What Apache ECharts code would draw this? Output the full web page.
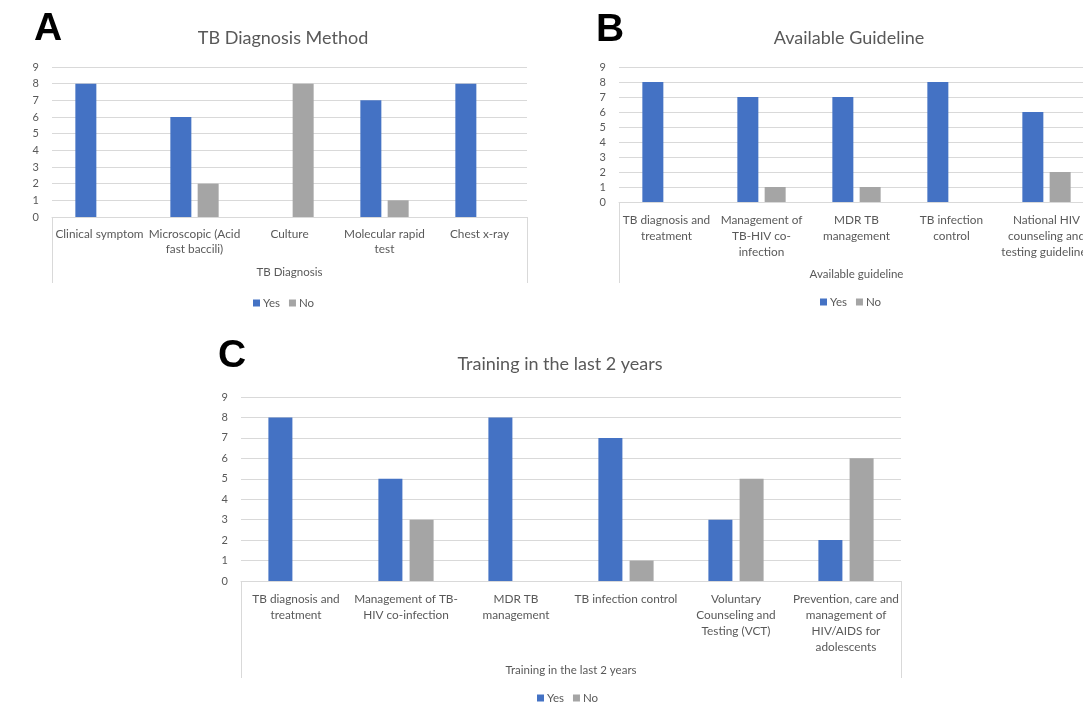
<!DOCTYPE html>
<html>
<head>
<meta charset="utf-8">
<script src="https://cdn.jsdelivr.net/npm/echarts@6/dist/echarts.min.js"></script>
<style>
html,body{margin:0;padding:0;background:#ffffff;overflow:hidden;}
#c{width:1100px;height:706px;}
</style>
</head>
<body>
<div id="c"></div>
<script>
// ---------------- data ----------------
const seriesNames = ['Yes', 'No'];
const yMin = 0, yMax = 9, yStep = 1;

const titleA = 'TB Diagnosis Method';
const axisNameA = 'TB Diagnosis';
const catsA = ['Clinical symptom', 'Microscopic (Acid fast baccili)', 'Culture', 'Molecular rapid test', 'Chest x-ray'];
const tickLabelsA = ['Clinical symptom', 'Microscopic (Acid\nfast baccili)', 'Culture', 'Molecular rapid\ntest', 'Chest x-ray'];
const yesA = [8, 6, 0, 7, 8];
const noA  = [0, 2, 8, 1, 0];

const titleB = 'Available Guideline';
const axisNameB = 'Available guideline';
const catsB = ['TB diagnosis and treatment', 'Management of TB-HIV co-infection', 'MDR TB management', 'TB infection control', 'National HIV counseling and testing guidelines'];
const tickLabelsB = ['TB diagnosis and\ntreatment', 'Management of\nTB-HIV co-\ninfection', 'MDR TB\nmanagement', 'TB infection\ncontrol', 'National HIV\ncounseling and\ntesting guidelines'];
const yesB = [8, 7, 7, 8, 6];
const noB  = [0, 1, 1, 0, 2];

const titleC = 'Training in the last 2 years';
const axisNameC = 'Training in the last 2 years';
const catsC = ['TB diagnosis and treatment', 'Management of TB-HIV co-infection', 'MDR TB management', 'TB infection control', 'Voluntary Counseling and Testing (VCT)', 'Prevention, care and management of HIV/AIDS for adolescents'];
const tickLabelsC = ['TB diagnosis and\ntreatment', 'Management of TB-\nHIV co-infection', 'MDR TB\nmanagement', 'TB infection control', 'Voluntary\nCounseling and\nTesting (VCT)', 'Prevention, care and\nmanagement of\nHIV/AIDS for\nadolescents'];
const yesC = [8, 5, 8, 7, 3, 2];
const noC  = [0, 3, 0, 1, 5, 6];

const panelLetters = ['A', 'B', 'C'];

// ---------------- layout / style ----------------
const FONT = 'Lato, "Open Sans", sans-serif';
const TXT = '#595959';
const GRIDC = '#D9D9D9';
const BLUE = '#4472C4';
const GRAY = '#A5A5A5';

const grids = [
  {left: 52,  top: 67,  width: 475, height: 150, barW: 21, lineH: 15, nameGap: 49, boxBottom: 283},
  {left: 619, top: 67,  width: 475, height: 135, barW: 21, lineH: 16, nameGap: 66, boxBottom: 283},
  {left: 241, top: 397, width: 660, height: 184, barW: 24, lineH: 16, nameGap: 83, boxBottom: 678}
];
const cats = [catsA, catsB, catsC];
const tickLabels = [tickLabelsA, tickLabelsB, tickLabelsC];
const axisNames = [axisNameA, axisNameB, axisNameC];
const yesData = [yesA, yesB, yesC];
const noData = [noA, noB, noC];
const titles = [titleA, titleB, titleC];
const titlePos = [[283, 38], [849, 38], [560, 364]];
const letterPos = [[48, 29], [610, 30], [232, 356]];
const legendPos = [[253, 297], [820, 296], [537, 692]];

const chart = echarts.init(document.getElementById('c'), null, {renderer: 'canvas'});

const option = {
  backgroundColor: '#ffffff',
  animation: false,
  textStyle: {fontFamily: FONT},
  grid: grids.map(g => ({left: g.left, top: g.top, width: g.width, height: g.height, containLabel: false})),
  legend: legendPos.map(p => ({
    data: seriesNames,
    left: p[0], top: p[1],
    padding: 0,
    icon: 'rect',
    itemWidth: 7, itemHeight: 7, itemGap: 9,
    textStyle: {fontFamily: FONT, fontSize: 11.5, color: TXT, padding: [0, 0, 0, -2]}
  })),
  xAxis: grids.map((g, i) => ({
    type: 'category',
    gridIndex: i,
    data: cats[i],
    boundaryGap: true,
    axisLine: {show: true, lineStyle: {color: GRIDC, width: 1}},
    axisTick: {show: false},
    axisLabel: {
      interval: 0, margin: 10, fontSize: 11.8, color: TXT, fontFamily: FONT,
      lineHeight: g.lineH, align: 'center',
      formatter: (v, idx) => tickLabels[i][idx]
    },
    name: axisNames[i],
    nameLocation: 'middle',
    nameGap: g.nameGap,
    nameTextStyle: {fontSize: 11.5, color: TXT, fontFamily: FONT}
  })),
  yAxis: grids.map((g, i) => ({
    type: 'value',
    gridIndex: i,
    min: yMin, max: yMax, interval: yStep,
    axisLine: {show: false},
    axisTick: {show: false},
    axisLabel: {margin: 13, fontSize: 11, color: TXT, fontFamily: FONT},
    splitLine: {show: true, lineStyle: {color: GRIDC, width: 1}}
  })),
  series: [],
  graphic: []
};

grids.forEach((g, i) => {
  option.series.push({
    name: seriesNames[0], type: 'bar', xAxisIndex: i, yAxisIndex: i,
    data: yesData[i], barWidth: g.barW, barGap: '30%',
    itemStyle: {color: BLUE}
  });
  option.series.push({
    name: seriesNames[1], type: 'bar', xAxisIndex: i, yAxisIndex: i,
    data: noData[i], barWidth: g.barW, barGap: '30%',
    itemStyle: {color: GRAY}
  });
  // category box side lines (Excel style)
  const axisY = g.top + g.height;
  [g.left, g.left + g.width].forEach(x => {
    option.graphic.push({
      type: 'line', silent: true,
      shape: {x1: x + 0.5, y1: axisY, x2: x + 0.5, y2: g.boxBottom},
      style: {stroke: GRIDC, lineWidth: 1}
    });
  });
  option.graphic.push({
    type: 'text', silent: true,
    x: titlePos[i][0], y: titlePos[i][1],
    style: {text: titles[i], fill: TXT, font: '18px ' + FONT, textAlign: 'center', textVerticalAlign: 'middle'}
  });
  option.graphic.push({
    type: 'text', silent: true,
    x: letterPos[i][0], y: letterPos[i][1],
    style: {text: panelLetters[i], fill: '#000000', font: 'bold 39px "Liberation Sans", Arial, sans-serif', textAlign: 'center', textVerticalAlign: 'middle'}
  });
});

chart.setOption(option);
</script>
</body>
</html>
